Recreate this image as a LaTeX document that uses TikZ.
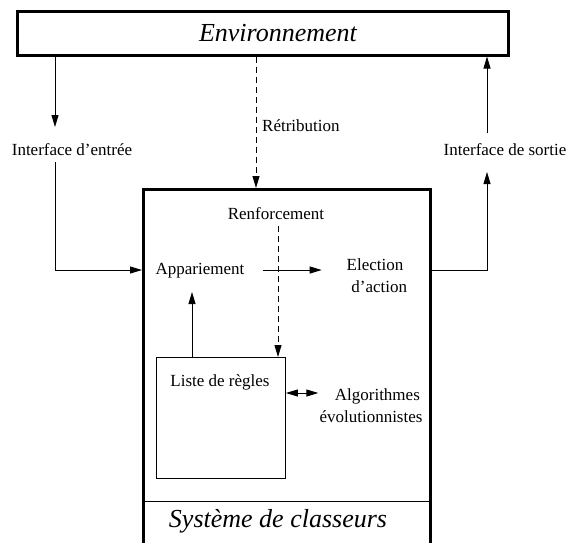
\documentclass[tikz,border=0pt]{standalone}
\usepackage{fontspec}
\setmainfont{Liberation Serif}
\usetikzlibrary{arrows.meta}

\tikzset{
  bigbox/.style={draw, line width=3pt, rectangle, inner sep=0pt},
  smallbox/.style={draw, line width=0.9pt, rectangle, inner sep=0pt},
  lbl/.style={inner sep=0pt, font=\fontsize{17}{22}\selectfont},
  ttl/.style={inner sep=0pt, font=\fontsize{26}{30}\selectfont\itshape},
  link/.style={line width=0.9pt},
  arr/.style={link, -{Triangle[length=12pt,width=7pt]}},
  dbl/.style={link, {Triangle[length=12pt,width=7pt]}-{Triangle[length=12pt,width=7pt]}},
  dsh/.style={dash pattern=on 6pt off 4pt}
}

\begin{document}
\begin{tikzpicture}[x=1pt,y=-1pt]
  \useasboundingbox (0,0) rectangle (569,542);
  \clip (0,0) rectangle (569,542);

  % outer boxes
  \node[bigbox, minimum width=491pt, minimum height=44pt] (env) at (263,33) {};
  \node[ttl] (envt) at (278,33) {Environnement};
  \node[bigbox, minimum width=287pt, minimum height=380pt, anchor=north west] (sys) at (142,188) {};
  \node[ttl] (syst) at (278,521) {Système de classeurs};
  \coordinate (sep) at (0,501);
  \draw[link] (sys.west |- sep) -- (sys.east |- sep);

  % rule list
  \node[smallbox, minimum width=129pt, minimum height=121pt, anchor=north west] (liste) at (156,357) {};
  \node[lbl] (lst) at (220,382) {Liste de règles};

  % labels
  \node[lbl] (in) at (72,150) {Interface d’entrée};
  \node[lbl] (out) at (505,150) {Interface de sortie};
  \node[lbl, anchor=west] (ret) at (262,126) {Rétribution};
  \node[lbl] (ren) at (276,214) {Renforcement};
  \node[lbl] (app) at (200,271) {Appariement};
  \node[lbl, align=center] (elec) at (375,276) {Election\\\ \ d’action};
  \node[lbl, align=center] (algo) at (371,406) {\ \ \ Algorithmes\\évolutionnistes};

  % helper coordinates
  \coordinate (row) at (0,270);
  \coordinate (inTop) at (55,127);
  \coordinate (inBot) at (55,162);
  \coordinate (outTop) at (487,133);
  \coordinate (outBot) at (487,172);
  \coordinate (retx) at (256,0);
  \coordinate (renTop) at (278,226);
  \coordinate (upTip) at (192,292);
  \coordinate (algoY) at (0,393);

  % input / output interfaces
  \draw[arr] (env.south -| inTop) -- (inTop);
  \draw[arr] (inBot) |- (sys.west |- row);
  \draw[arr] (sys.east |- row) -| (outBot);
  \draw[arr] (outTop) -- (env.south -| outTop);

  % reward paths
  \draw[arr, dsh] (env.south -| retx) -- (sys.north -| retx);
  \draw[arr, dsh] (renTop) -- (liste.north -| renTop);

  % inner flow
  \draw[arr, shorten <=18pt, shorten >=21pt] (app.east |- row) -- (elec.west |- row);
  \draw[arr] (liste.north -| upTip) -- (upTip);
  \draw[dbl, shorten >=1pt] (liste.east |- algoY) -- (algo.west |- algoY);
\end{tikzpicture}
\end{document}
